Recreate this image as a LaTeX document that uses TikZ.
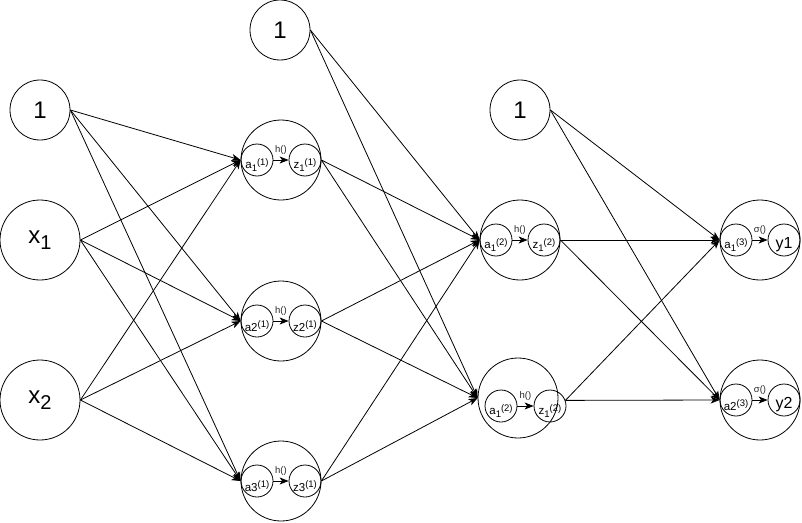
\documentclass[tikz,border=0pt]{standalone}
\usepackage{fontspec}
\setmainfont{Liberation Sans}
\usetikzlibrary{arrows.meta,calc}
\newcommand\sbs[1]{\raisebox{-2.5pt}{\fontsize{9.5}{9.5}\selectfont #1}}
\newcommand\sps[1]{\raisebox{3.5pt}{\fontsize{9.5}{9.5}\selectfont #1}}
\newcommand\bigsub[1]{\raisebox{-6pt}{\fontsize{20}{20}\selectfont #1}}
\tikzset{
  bigc/.style={circle,draw,minimum size=80pt,inner sep=0pt},
  biasc/.style={circle,draw,minimum size=60pt,inner sep=0pt,font=\fontsize{24}{24}\selectfont},
  inputc/.style={circle,draw,minimum size=80pt,inner sep=0pt,font=\fontsize{24}{24}\selectfont},
  innerc/.style={circle,draw,minimum size=32pt,inner sep=0pt},
  lbl/.style={font=\fontsize{11.5}{11.5}\selectfont,inner sep=0pt},
  ylbl/.style={font=\fontsize{16}{16}\selectfont,inner sep=0pt},
  fnlbl/.style={font=\fontsize{9.5}{9.5}\selectfont,inner sep=0pt,text=black!85},
  conn/.style={-{Stealth[length=9pt,width=7pt,inset=2.5pt]}},
}
% name, position, a-label, z-label, function label, z-label style
\newcommand\mkneuron[6]{%
  \node[bigc] (#1) at (#2) {};
  \node[innerc,anchor=west] (#1a) at (#1.west) {};
  \node[innerc,anchor=east] (#1z) at (#1.east) {};
  \node[lbl,yshift=-5pt] (#1at) at (#1a) {#3};
  \node[#6,yshift=-5pt] (#1zt) at (#1z) {#4};
  \draw[conn] (#1a) -- (#1z);
  \node[fnlbl,yshift=10pt] (#1f) at ($(#1a.east)!0.5!(#1z.west)$) {#5};
}
\begin{document}
\begin{tikzpicture}[x=1pt,y=-1pt,line width=0.8pt]
\useasboundingbox (0,0) rectangle (802,522);

% input layer
\node[biasc] (b0) at (40,110) {1};
\node[inputc] (x1) at (40,240) {x\bigsub{1}};
\node[inputc] (x2) at (40,400) {x\bigsub{2}};

% hidden layer 1
\node[biasc] (b1) at (280,30) {1};
\mkneuron{h1}{281,160}{a\sbs{1}\sps{(1)}}{z\sbs{1}\sps{(1)}}{h()}{lbl}
\mkneuron{h2}{281,321}{a2\sps{(1)}}{z2\sps{(1)}}{h()}{lbl}
\mkneuron{h3}{281,481}{a3\sps{(1)}}{z3\sps{(1)}}{h()}{lbl}

% hidden layer 2
\node[biasc] (b2) at (520,110) {1};
\mkneuron{n1}{520,240}{a\sbs{1}\sps{(2)}}{z\sbs{1}\sps{(2)}}{h()}{lbl}
\node[bigc] (n2) at (518,398) {};
\node[innerc] (n2a) at (501,406) {};
\node[innerc] (n2z) at (550,406) {};
\node[lbl,yshift=-5pt] (n2at) at (n2a) {a\sbs{1}\sps{(2)}};
\node[lbl,yshift=-5pt] (n2zt) at (n2z) {z\sbs{1}\sps{(2)}};
\draw[conn] (n2a) -- (n2z);
\node[fnlbl,yshift=10pt] (n2f) at ($(n2a.east)!0.5!(n2z.west)$) {h()};

% output layer
\mkneuron{o1}{760,240}{a\sbs{1}\sps{(3)}}{y1}{σ()}{ylbl}
\mkneuron{o2}{760,400}{a2\sps{(3)}}{y2}{σ()}{ylbl}

% connections input -> hidden 1
\foreach \s in {b0,x1,x2}{
  \foreach \t in {h1,h2,h3}{
    \draw[conn] (\s.east) -- (\t.west);
  }
}
% hidden 1 -> hidden 2
\foreach \s in {h1z,h2z,h3z,b1}{
  \foreach \t in {n1,n2}{
    \draw[conn] (\s.east) -- (\t.west);
  }
}
% hidden 2 -> output
\foreach \s in {n1z.east,n2z.20,b2.east}{
  \foreach \t in {o1,o2}{
    \draw[conn] (\s) -- (\t.west);
  }
}
\end{tikzpicture}
\end{document}
